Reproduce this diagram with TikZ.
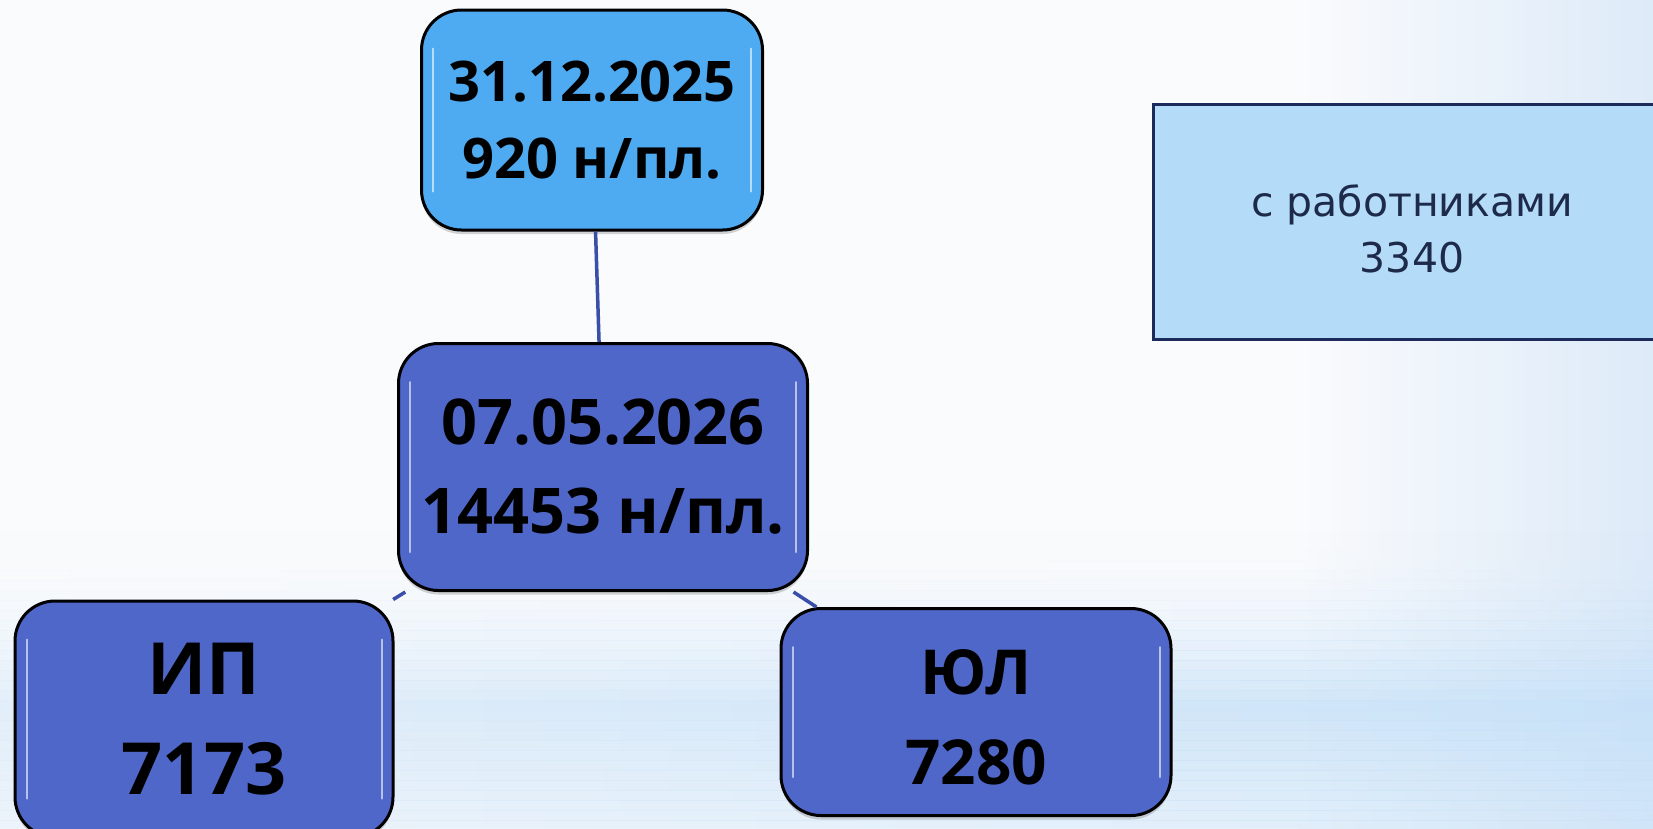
\documentclass[tikz,border=0pt]{standalone}
\usepackage{fontspec}
\setmainfont{Open Sans}
\newfontfamily\notefont{DejaVu Sans}
\usetikzlibrary{shadows,calc}

\definecolor{bgwhite}{HTML}{FAFBFD}
\definecolor{bgright}{HTML}{DDEAF8}
\definecolor{bandleft}{HTML}{E0EDF9}
\definecolor{bandmid}{HTML}{F0F5FB}
\definecolor{bandblue}{HTML}{C6E1F8}
\definecolor{skybox}{HTML}{4EABF1}
\definecolor{royalbox}{HTML}{4F67C9}
\definecolor{notebox}{HTML}{B4DBF8}
\definecolor{noteline}{HTML}{1C2B5C}
\definecolor{notetext}{HTML}{1E2A4A}
\definecolor{linkline}{HTML}{3A4FA8}

\begin{document}
\begin{tikzpicture}[x=1pt,y=-1pt,
    datebox/.style={draw=black, line width=3pt, rounded corners=40pt,
      align=center, text=black, inner sep=0pt,
      drop shadow={shadow xshift=0pt, shadow yshift=-4pt, opacity=0.35}},
    notebox/.style={draw=noteline, fill=notebox, line width=3pt,
      align=center, text=notetext, inner sep=0pt},
    link/.style={draw=linkline, line width=3.5pt},
    gloss/.style={draw=white, line width=2pt, line cap=round, opacity=0.6}]
    \useasboundingbox (0,0) rectangle (1653,828);
    \clip (0,0) rectangle (1653,828);

    % Background, bluer to the right
    \fill [bgwhite] (0,0) rectangle (1300,828);%
    \shade [left color=bgwhite, right color=bgright] (1299,0) rectangle (1653,828);%

    % Light band near the bottom
    \foreach \i in {0,...,30} {
      \pgfmathsetmacro{\ya}{520+10*\i}
      \pgfmathsetmacro{\op}{\ya<700 ? 0.9*((\ya-520)/180)^2 : 0.9-0.4*(\ya-700)/128}
      \shade [left color=bandleft, middle color=bandmid, right color=bandblue,
        opacity=\op] (0,\ya) rectangle (1653,\ya+10);%
    }

    % Box top
    \node [datebox, fill=skybox, minimum width=341, minimum height=220,
      font=\fontsize{56}{77}\selectfont\bfseries] (top) at (592,120) {31.12.2025\\920 н/пл.};%

    % Box mid
    \node [datebox, fill=royalbox, minimum width=409, minimum height=247,
      font=\fontsize{63}{89}\selectfont\bfseries] (mid) at (603,467) {07.05.2026\\14453 н/пл.};%

    % Box ip
    \node [datebox, fill=royalbox, minimum width=378, minimum height=236,
      font=\fontsize{72}{100}\selectfont\bfseries] (ip) at (204,719) {ИП\\7173};%

    % Box ul
    \node [datebox, fill=royalbox, minimum width=390, minimum height=207,
      font=\fontsize{62}{90}\selectfont\bfseries] (ul) at (976,712) {\rule{0pt}{56pt}ЮЛ\\7280};%

    % Box with workers
    \node [notebox, minimum width=518, minimum height=235,
      font=\fontsize{41}{56}\selectfont\notefont] (staff) at (1412,222) {\rule{0pt}{46pt}с работниками\\3340};%

    % Glossy edges
    \foreach \b in {top,mid,ip,ul} {
      \draw [gloss] ($(\b.north west)+(13,40)$) -- ($(\b.south west)+(13,-40)$);%
      \draw [gloss] ($(\b.north east)+(-13,40)$) -- ($(\b.south east)+(-13,-40)$);%
    }

    % Links
    \draw [link] (top) -- (mid);%
    \draw [link] (mid) -- (ip);%
    \draw [link] (mid) -- (ul);%
\end{tikzpicture}
\end{document}
